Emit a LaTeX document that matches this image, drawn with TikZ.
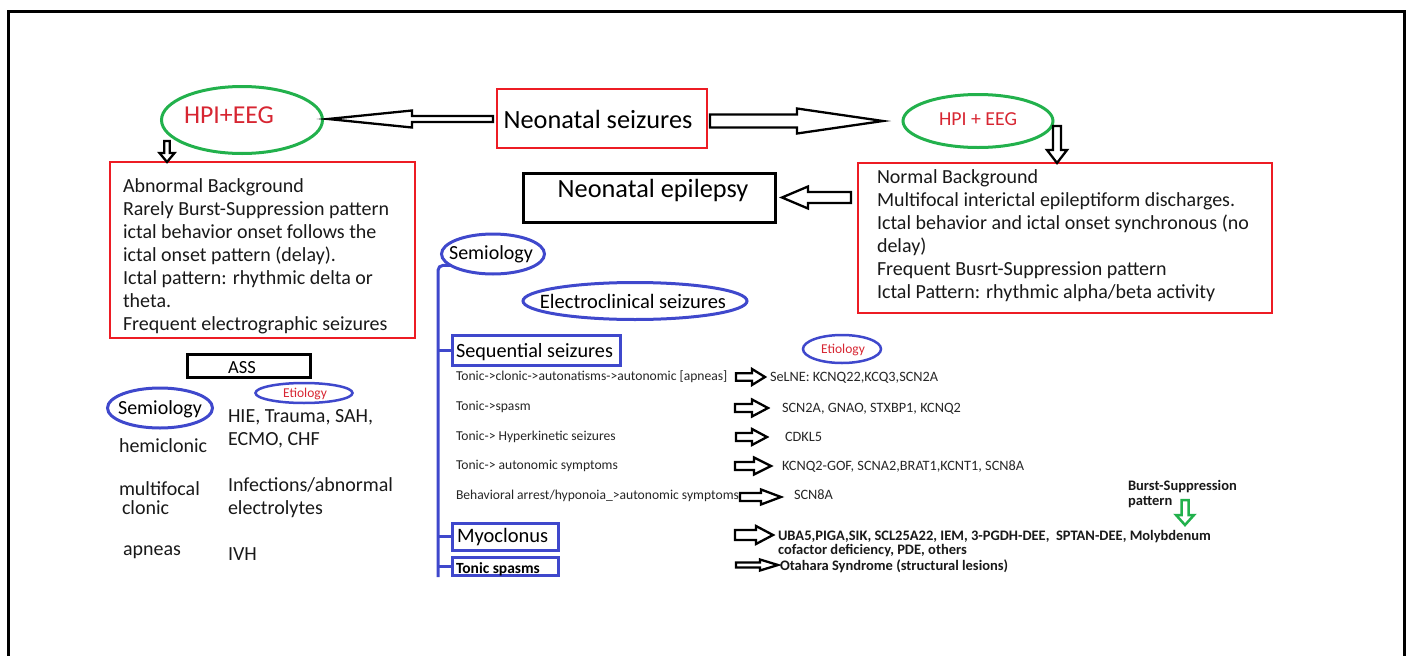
\documentclass[tikz,border=0pt]{standalone}
\usepackage{fontspec}
\setmainfont{Carlito}
\usetikzlibrary{calc,shapes.geometric}
\definecolor{pred}{RGB}{237,28,36}
\definecolor{tred}{RGB}{215,38,50}
\definecolor{pgreen}{RGB}{34,177,76}
\definecolor{pblue}{RGB}{63,72,204}
\tikzset{
  frame/.style={draw=black, line width=3pt},
  redbox/.style={rectangle, draw=pred, line width=2.5pt},
  blackbox/.style={rectangle, draw=black, line width=3pt},
  bluebox/.style={rectangle, draw=pblue, line width=3pt},
  gell/.style={ellipse, draw=pgreen, line width=3pt},
  bell/.style={ellipse, draw=pblue, line width=3pt},
  bline/.style={draw=pblue, line width=3pt},
  harrow/.style={draw=black, fill=white, line width=2.3pt, line join=miter},
  bigtxt/.style={font=\fontsize{26.3}{30}\selectfont},
  boxtxt/.style={font=\fontsize{20}{23}\selectfont, anchor=base west, text=black!90},
  midtxt/.style={font=\fontsize{20}{23}\selectfont, anchor=base west, text=black!90},
  listtxt/.style={font=\fontsize{13.6}{15}\selectfont, anchor=base west, text=black!85},
  etxt/.style={font=\fontsize{14.3}{15}\selectfont, anchor=base west, text=black!85},
  boldtxt/.style={font=\bfseries\fontsize{14.5}{15}\selectfont, anchor=base west, text=black!90},
}
\newcommand\hollowarrow[6][]{%
  \coordinate (hb) at ($(#3)!#6!(#2)$);
  \draw[harrow,#1] ($(#2)!#4!90:(#3)$) -- ($(hb)!#4!90:(#3)$) -- ($(hb)!#5!90:(#3)$) -- (#3)
    -- ($(hb)!#5!-90:(#3)$) -- ($(hb)!#4!-90:(#3)$) -- ($(#2)!#4!-90:(#3)$) -- cycle;}
\begin{document}
\begin{tikzpicture}[x=1pt,y=-1pt, every node/.style={inner sep=0pt, outer sep=0pt}]
\useasboundingbox (0,0) rectangle (1409,656);
\draw[frame] (8,656) -- (8,11) -- (1404,11) -- (1404,656);

% ---- top row
\node[redbox, minimum width=210pt, minimum height=59pt] (ns) at (602,118.5) {};
\node[bigtxt, anchor=base] (nst) at (598,128) {Neonatal seizures};
\node[gell, minimum width=161pt, minimum height=67pt] (hl) at (242,120) {};
\node[font=\fontsize{25.8}{28}\selectfont, text=tred, anchor=base] (hlt) at (229,123) {HPI+EEG};
\node[gell, minimum width=150pt, minimum height=53pt] (hr) at (978,121) {};
\node[font=\fontsize{19.8}{22}\selectfont, text=tred, anchor=base] (hrt) at (978,125) {HPI + EEG};

\coordinate (a1s) at ($(ns.west)+(-4,0.5)$);
\coordinate (a1e) at ($(hl.east)+(5.5,-1)$);
\hollowarrow{a1s}{a1e}{3pt}{8.5pt}{84pt}
\coordinate (a2s) at ($(ns.east)+(3,2.5)$);
\coordinate (a2e) at ($(hr.west)+(-20,0)$);
\hollowarrow{a2s}{a2e}{6.5pt}{12.5pt}{86pt}

% ---- left red box
\node[redbox, minimum width=305pt, minimum height=176pt] (lbox) at (262.5,250) {};
\foreach \t [count=\i from 0] in {Abnormal Background,Rarely Burst-Suppression pattern,ictal behavior onset follows the,ictal onset pattern (delay).,Ictal pattern: rhythmic delta or,theta.,Frequent electrographic seizures}
  \node[boxtxt] (lt\i) at (123,{192+23*\i}) {\t};
\coordinate (a3s) at (167,141);
\coordinate (a3e) at (lbox.north -| a3s);
\hollowarrow{a3s}{a3e}{2.7pt}{7.5pt}{9pt}

% ---- right red box
\node[redbox, minimum width=414pt, minimum height=150pt] (rbox) at (1065,238) {};
\foreach \t [count=\i from 0] in {Normal Background,Multifocal interictal epileptiform discharges.,Ictal behavior and ictal onset synchronous (no,delay),Frequent Busrt-Suppression pattern,Ictal Pattern: rhythmic alpha/beta activity}
  \node[boxtxt] (rt\i) at (877,{183+23*\i}) {\t};
\coordinate (a4s) at (1057,126);
\coordinate (a4e) at (rbox.north -| a4s);
\hollowarrow{a4s}{a4e}{4pt}{10pt}{13pt}

% ---- neonatal epilepsy
\node[blackbox, minimum width=252pt, minimum height=49pt] (ne) at (649,197.5) {};
\node[bigtxt, anchor=base] (net) at (653,197) {Neonatal epilepsy};
\coordinate (a5s) at ($(rbox.west |- ne.east)+(-7,0)$);
\coordinate (a5e) at ($(ne.east)+(7,0)$);
\hollowarrow{a5s}{a5e}{5.5pt}{11pt}{26pt}

% ---- left lower section (ASS)
\node[blackbox, minimum width=123pt, minimum height=23pt] (ass) at (248.5,365.5) {};
\node[font=\fontsize{18.5}{22}\selectfont, anchor=base] (asst) at (242,373) {ASS};
\node[bell, minimum width=105pt, minimum height=40pt] (sl) at (160,408) {};
\node[font=\fontsize{20}{22}\selectfont, anchor=base] (slt) at (160,414) {Semiology};
\node[bell, line width=2.5pt, minimum width=97pt, minimum height=20pt] (el) at (304,393) {};
\node[font=\fontsize{13.5}{15}\selectfont, text=tred, anchor=base] (elt) at (305,397) {Etiology};
\node[midtxt] (s1) at (119,452) {hemiclonic};
\node[midtxt] (s2a) at (119,495) {multifocal};
\node[midtxt] (s2b) at (122,514) {clonic};
\node[midtxt] (s3) at (123,555) {apneas};
\node[midtxt] (e1a) at (228,422) {HIE, Trauma, SAH,};
\node[midtxt] (e1b) at (228,445) {ECMO, CHF};
\node[midtxt] (e2a) at (228,491) {Infections/abnormal};
\node[midtxt] (e2b) at (228,514) {electrolytes};
\node[midtxt] (e3) at (228,560) {IVH};

% ---- middle section
\node[bell, minimum width=103pt, minimum height=40pt] (sm) at (493,254) {};
\node[font=\fontsize{20}{22}\selectfont, anchor=base] (smt) at (491,259) {Semiology};
\node[bell, minimum width=224pt, minimum height=37pt] (ec) at (635,301) {};
\node[font=\fontsize{20.5}{22}\selectfont, anchor=base] (ect) at (633,308) {Electroclinical seizures};
\node[bluebox, minimum width=168pt, minimum height=30pt] (seq) at (536,350) {};
\node[font=\fontsize{20.2}{22}\selectfont, anchor=base west] (seqt) at (456,357) {Sequential seizures};
\node[bluebox, minimum width=106pt, minimum height=27pt] (myo) at (505,536.5) {};
\node[font=\fontsize{20.5}{22}\selectfont, anchor=base west] (myot) at (457,542) {Myoclonus};
\node[bluebox, minimum width=106pt, minimum height=18pt] (ts) at (505,566) {};
\node[font=\bfseries\fontsize{15.5}{16}\selectfont, anchor=base west] (tst) at (456,573) {Tonic spasms};
\coordinate (vbot) at (438,577);
\draw[bline, rounded corners=5pt] (sm.195) -| (vbot);
\draw[bline] (seq.west -| vbot) -- (seq.west);
\draw[bline] (myo.west -| vbot) -- (myo.west);
\draw[bline] (ts.west -| vbot) -- (ts.west);

\node[listtxt] (l1) at (456,380) {Tonic->clonic->autonatisms->autonomic [apneas]};
\node[listtxt] (l2) at (456,410) {Tonic->spasm};
\node[listtxt] (l3) at (456,440) {Tonic-> Hyperkinetic seizures};
\node[listtxt] (l4) at (456,469) {Tonic-> autonomic symptoms};
\node[listtxt] (l5) at (456,499) {Behavioral arrest/hyponoia\_>autonomic symptoms};

% ---- etiology column
\node[bell, line width=2.5pt, minimum width=78pt, minimum height=28pt] (er) at (842,349) {};
\node[font=\fontsize{13.5}{15}\selectfont, text=tred, anchor=base] (ert) at (843,353) {Etiology};
\node[etxt] (t1) at (770,381) {SeLNE: KCNQ22,KCQ3,SCN2A};
\node[etxt] (t2) at (782,412) {SCN2A, GNAO, STXBP1, KCNQ2};
\node[etxt] (t3) at (785,441) {CDKL5};
\node[etxt] (t4) at (782,470) {KCNQ2-GOF, SCNA2,BRAT1,KCNT1, SCN8A};
\node[etxt] (t5) at (794,499) {SCN8A};
\node[boldtxt] (t6a) at (778,540) {UBA5,PIGA,SIK, SCL25A22, IEM, 3-PGDH-DEE,\ \ SPTAN-DEE, Molybdenum};
\node[boldtxt] (t6b) at (778,554) {cofactor deficiency, PDE, others};
\node[boldtxt] (t7) at (780,570) {Otahara Syndrome (structural lesions)};

\coordinate (b1s) at (736,377); \coordinate (b1e) at (765,377);
\hollowarrow{b1s}{b1e}{3.7pt}{8pt}{13pt}
\coordinate (b2s) at (735,408); \coordinate (b2e) at (768,408);
\hollowarrow{b2s}{b2e}{4pt}{8.5pt}{16pt}
\coordinate (b3s) at (736,437); \coordinate (b3e) at (767,437);
\hollowarrow{b3s}{b3e}{4pt}{8pt}{15pt}
\coordinate (b4s) at (735,466); \coordinate (b4e) at (771,466);
\hollowarrow{b4s}{b4e}{4pt}{8.5pt}{17pt}
\coordinate (b5s) at (740,497); \coordinate (b5e) at (781,497);
\hollowarrow{b5s}{b5e}{4pt}{7.5pt}{20pt}
\coordinate (b6s) at (735,535); \coordinate (b6e) at (773,535);
\hollowarrow{b6s}{b6e}{5pt}{9pt}{17pt}
\coordinate (b7s) at (736,565); \coordinate (b7e) at (778,565);
\hollowarrow{b7s}{b7e}{2.5pt}{5.5pt}{18pt}

% ---- burst-suppression
\node[boldtxt] (bs1) at (1128,490) {Burst-Suppression};
\node[boldtxt] (bs2) at (1128,505) {pattern};
\coordinate (gs) at (1185,500); \coordinate (ge) at (1185,525);
\hollowarrow[draw=pgreen, line width=2.5pt]{gs}{ge}{3.5pt}{9pt}{10pt}
\end{tikzpicture}
\end{document}
